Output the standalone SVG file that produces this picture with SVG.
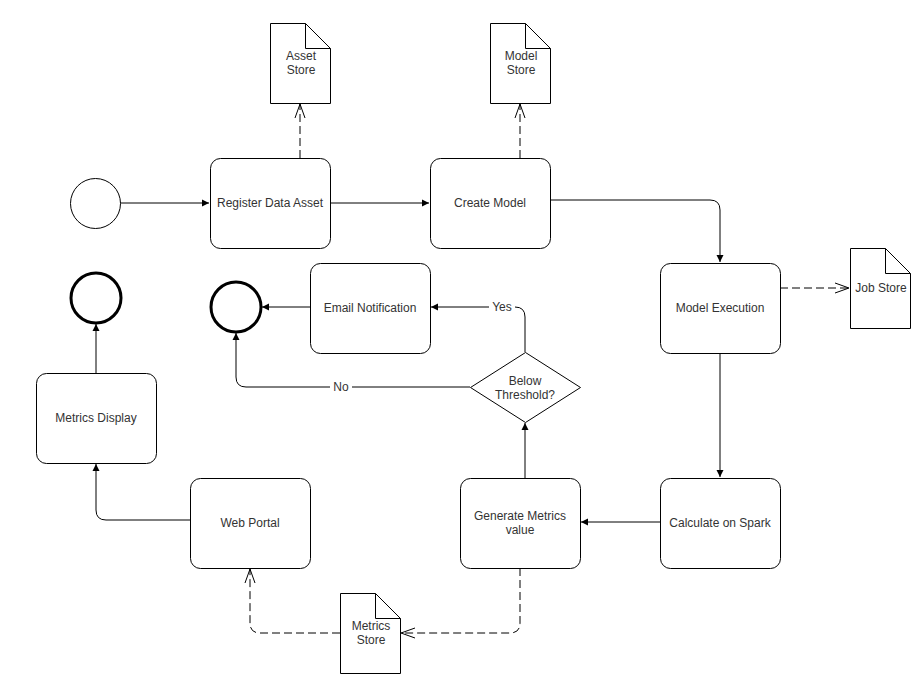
<svg xmlns="http://www.w3.org/2000/svg" width="916" height="688" viewBox="0 0 916 688">
<defs>
<marker id="block" markerWidth="8" markerHeight="8" refX="7" refY="4" orient="auto" markerUnits="userSpaceOnUse">
<path d="M0,0.5 L7,4 L0,7.5 Z" fill="#000"/>
</marker>
<marker id="open" markerWidth="16" markerHeight="12" refX="14" refY="6" orient="auto" markerUnits="userSpaceOnUse">
<path d="M0,1 L14,6 L0,11" fill="none" stroke="#000" stroke-width="1"/>
</marker>
</defs>
<style>
.node{fill:#fff;stroke:#000;stroke-width:1}
.t{font-family:"Liberation Sans",Arial,sans-serif;font-size:12px;fill:#333;text-anchor:middle;dominant-baseline:central}
.c{fill:none;stroke:#000;stroke-width:1}
.d{fill:none;stroke:#000;stroke-width:1;stroke-dasharray:8 4}
</style>
<rect width="916" height="688" fill="#fff"/>
<g id="connectors">
<path class="c" d="M120,203 L209,203" marker-end="url(#block)"/>
<path class="c" d="M330,203 L429,203" marker-end="url(#block)"/>
<path class="c" d="M550,200 L710,200 Q720,200 720,210 L720,262" marker-end="url(#block)"/>
<path class="c" d="M720,353 L720,477" marker-end="url(#block)"/>
<path class="c" d="M660,522 L581,522" marker-end="url(#block)"/>
<path class="c" d="M525,478 L525,423" marker-end="url(#block)"/>
<path class="c" d="M525,352 L525,317 Q525,307 515,307 L431,307" marker-end="url(#block)"/>
<path class="c" d="M470,387 L246,387 Q236,387 236,377 L236,333" marker-end="url(#block)"/>
<path class="c" d="M310,307 L262,307" marker-end="url(#block)"/>
<path class="c" d="M190,520 L106,520 Q96,520 96,510 L96,464" marker-end="url(#block)"/>
<path class="c" d="M96,373 L96,324" marker-end="url(#block)"/>
<path class="d" d="M300,158 L300,104" marker-end="url(#open)"/>
<path class="d" d="M520,158 L520,104" marker-end="url(#open)"/>
<path class="d" d="M780,288 L849,288" marker-end="url(#open)"/>
<path class="d" d="M520,568 L520,623 Q520,633 510,633 L401,633" marker-end="url(#open)"/>
<path class="d" d="M340,633 L260,633 Q250,633 250,623 L250,569" marker-end="url(#open)"/>
<rect x="489" y="299" width="26" height="16" fill="#fff"/>
<text class="t" x="502" y="307">Yes</text>
<rect x="330" y="379" width="22" height="16" fill="#fff"/>
<text class="t" x="341" y="387">No</text>
</g>
<g id="start"><circle class="node" cx="95.5" cy="203.5" r="25"/></g>
<g id="end1"><circle cx="236" cy="307" r="25" fill="#fff" stroke="#000" stroke-width="3"/></g>
<g id="end2"><circle cx="96" cy="298" r="25" fill="#fff" stroke="#000" stroke-width="3"/></g>
<g id="register"><rect class="node" x="210.5" y="158.5" width="120" height="90" rx="10"/><text class="t" x="270" y="203">Register Data Asset</text></g>
<g id="create"><rect class="node" x="430.5" y="158.5" width="120" height="90" rx="10"/><text class="t" x="490" y="203">Create Model</text></g>
<g id="exec"><rect class="node" x="660.5" y="263.5" width="120" height="90" rx="10"/><text class="t" x="720" y="308">Model Execution</text></g>
<g id="email"><rect class="node" x="310.5" y="263.5" width="120" height="90" rx="10"/><text class="t" x="370" y="308">Email Notification</text></g>
<g id="display"><rect class="node" x="36.5" y="373.5" width="120" height="90" rx="10"/><text class="t" x="96" y="418">Metrics Display</text></g>
<g id="portal"><rect class="node" x="190.5" y="478.5" width="120" height="90" rx="10"/><text class="t" x="250" y="523">Web Portal</text></g>
<g id="generate"><rect class="node" x="460.5" y="478.5" width="120" height="90" rx="10"/><text class="t" x="520" y="516">Generate Metrics</text><text class="t" x="520" y="530">value</text></g>
<g id="spark"><rect class="node" x="660.5" y="478.5" width="120" height="90" rx="10"/><text class="t" x="720" y="523">Calculate on Spark</text></g>
<g id="decision"><path class="node" d="M525.5,352.5 L580.5,387.5 L525.5,422.5 L470.5,387.5 Z" stroke-width="2"/><text class="t" x="525" y="381">Below</text><text class="t" x="525" y="395">Threshold?</text></g>
<g id="assetstore"><path class="node" d="M270.5,23.5 L305.5,23.5 L330.5,48.5 L330.5,103.5 L270.5,103.5 Z M305.5,23.5 L305.5,48.5 L330.5,48.5"/><text class="t" x="301" y="56">Asset</text><text class="t" x="301" y="70">Store</text></g>
<g id="modelstore"><path class="node" d="M490.5,23.5 L525.5,23.5 L550.5,48.5 L550.5,103.5 L490.5,103.5 Z M525.5,23.5 L525.5,48.5 L550.5,48.5"/><text class="t" x="521" y="56">Model</text><text class="t" x="521" y="70">Store</text></g>
<g id="jobstore"><path class="node" d="M850.5,248.5 L885.5,248.5 L910.5,273.5 L910.5,328.5 L850.5,328.5 Z M885.5,248.5 L885.5,273.5 L910.5,273.5"/><text class="t" x="881" y="288">Job Store</text></g>
<g id="metricsstore"><path class="node" d="M340.5,593.5 L375.5,593.5 L400.5,618.5 L400.5,673.5 L340.5,673.5 Z M375.5,593.5 L375.5,618.5 L400.5,618.5"/><text class="t" x="371" y="626">Metrics</text><text class="t" x="371" y="640">Store</text></g>
</svg>
